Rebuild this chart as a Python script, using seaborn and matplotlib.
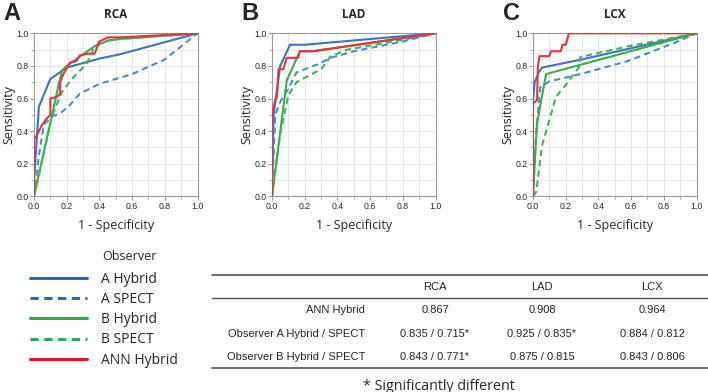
import numpy as np
import pandas as pd
import seaborn as sns
import matplotlib.pyplot as plt
from matplotlib.lines import Line2D
from matplotlib.ticker import MultipleLocator

# ROC curve points (1 - specificity, sensitivity)
rca_a_hyb_x = [0, 0, 0.03, 0.10, 0.20, 0.40, 0.52, 1.0]
rca_a_hyb_y = [0, 0.10, 0.55, 0.72, 0.79, 0.845, 0.87, 1.0]
rca_a_spe_x = [0, 0.03, 0.06, 0.11, 0.16, 0.21, 0.28, 0.40, 0.60, 0.80, 1.0]
rca_a_spe_y = [0, 0.25, 0.44, 0.49, 0.51, 0.55, 0.63, 0.69, 0.75, 0.84, 1.0]
rca_b_hyb_x = [0, 0.17, 0.20, 0.37, 0.45, 0.52, 1.0]
rca_b_hyb_y = [0, 0.77, 0.80, 0.92, 0.955, 0.965, 1.0]
rca_b_spe_x = [0, 0.11, 0.17, 0.24, 0.32, 0.37, 0.45, 0.52, 1.0]
rca_b_spe_y = [0, 0.49, 0.64, 0.73, 0.81, 0.92, 0.955, 0.965, 1.0]
rca_ann_x = [0, 0, 0.01, 0.05, 0.08, 0.10, 0.10, 0.14, 0.16, 0.16, 0.18, 0.22, 0.26, 0.28, 0.33, 0.37, 0.40, 0.45, 0.52, 1.0]
rca_ann_y = [0, 0.36, 0.36, 0.44, 0.48, 0.50, 0.60, 0.61, 0.63, 0.70, 0.75, 0.82, 0.83, 0.865, 0.875, 0.875, 0.95, 0.975, 0.975, 1.0]

lad_a_hyb_x = [0, 0.01, 0.05, 0.11, 0.20, 1.0]
lad_a_hyb_y = [0, 0.50, 0.80, 0.93, 0.93, 1.0]
lad_a_spe_x = [0, 0.02, 0.05, 0.10, 0.15, 0.28, 0.36, 0.50, 0.80, 1.0]
lad_a_spe_y = [0, 0.50, 0.58, 0.66, 0.76, 0.81, 0.85, 0.89, 0.95, 1.0]
lad_b_hyb_x = [0, 0.09, 0.17, 0.25, 1.0]
lad_b_hyb_y = [0, 0.71, 0.89, 0.89, 1.0]
lad_b_spe_x = [0, 0.05, 0.10, 0.15, 0.30, 0.36, 0.46, 0.80, 1.0]
lad_b_spe_y = [0, 0.38, 0.62, 0.70, 0.78, 0.86, 0.90, 0.96, 1.0]
lad_ann_x = [0, 0, 0.02, 0.03, 0.04, 0.07, 0.08, 0.09, 0.16, 0.17, 0.25, 1.0]
lad_ann_y = [0, 0.51, 0.59, 0.61, 0.78, 0.78, 0.82, 0.85, 0.85, 0.89, 0.89, 1.0]

lcx_a_hyb_x = [0, 0, 0.01, 0.035, 0.055, 0.30, 1.0]
lcx_a_hyb_y = [0, 0.59, 0.70, 0.76, 0.79, 0.84, 1.0]
lcx_a_spe_x = [0, 0.02, 0.045, 0.10, 0.29, 0.58, 0.86, 1.0]
lcx_a_spe_y = [0, 0.40, 0.67, 0.705, 0.75, 0.83, 0.94, 1.0]
lcx_b_hyb_x = [0, 0.01, 0.025, 0.08, 1.0]
lcx_b_hyb_y = [0, 0.20, 0.45, 0.75, 1.0]
lcx_b_spe_x = [0, 0.02, 0.055, 0.14, 0.19, 0.28, 0.29, 0.58, 1.0]
lcx_b_spe_y = [0, 0.03, 0.31, 0.61, 0.67, 0.79, 0.855, 0.92, 1.0]
lcx_ann_x = [0, 0, 0.025, 0.03, 0.04, 0.10, 0.11, 0.17, 0.18, 0.20, 0.22, 1.0]
lcx_ann_y = [0, 0.57, 0.59, 0.80, 0.86, 0.86, 0.89, 0.89, 0.93, 0.93, 1.0, 1.0]

series_names = ["A Hybrid", "A SPECT", "B Hybrid", "B SPECT", "ANN Hybrid"]
panels = ["RCA", "LAD", "LCX"]
panel_letters = ["A", "B", "C"]
curves = {
    "RCA": [(rca_a_hyb_x, rca_a_hyb_y), (rca_a_spe_x, rca_a_spe_y), (rca_b_hyb_x, rca_b_hyb_y),
            (rca_b_spe_x, rca_b_spe_y), (rca_ann_x, rca_ann_y)],
    "LAD": [(lad_a_hyb_x, lad_a_hyb_y), (lad_a_spe_x, lad_a_spe_y), (lad_b_hyb_x, lad_b_hyb_y),
            (lad_b_spe_x, lad_b_spe_y), (lad_ann_x, lad_ann_y)],
    "LCX": [(lcx_a_hyb_x, lcx_a_hyb_y), (lcx_a_spe_x, lcx_a_spe_y), (lcx_b_hyb_x, lcx_b_hyb_y),
            (lcx_b_spe_x, lcx_b_spe_y), (lcx_ann_x, lcx_ann_y)],
}

# AUC table
table_cols = ["RCA", "LAD", "LCX"]
table_rows = ["ANN Hybrid", "Observer A Hybrid / SPECT", "Observer B Hybrid / SPECT"]
table_vals = [
    ["0.867", "0.908", "0.964"],
    ["0.835 / 0.715*", "0.925 / 0.835*", "0.884 / 0.812"],
    ["0.843 / 0.771*", "0.875 / 0.815", "0.843 / 0.806"],
]

colors = {"A Hybrid": "#3a74c6", "A SPECT": "#4a8ad8", "B Hybrid": "#34b04a",
          "B SPECT": "#3fb552", "ANN Hybrid": "#e8323c"}
dashes = {"A Hybrid": "", "A SPECT": (3, 2), "B Hybrid": "", "B SPECT": (3, 2), "ANN Hybrid": ""}
legend_colors = ["#1f6cc0", "#1f6cc0", "#27ae4a", "#27ae4a", "#e8141c"]

# long table
rows = []
for p in panels:
    for name, (xs, ys) in zip(series_names, curves[p]):
        for i, (x, y) in enumerate(zip(xs, ys)):
            rows.append({"panel": p, "series": name, "order": i, "fpr": x, "tpr": y})
df = pd.DataFrame(rows)

sns.set_style("whitegrid")
plt.rcParams["font.family"] = ["Liberation Sans", "DejaVu Sans"]

fig = plt.figure(figsize=(7.08, 3.92), dpi=100)
lefts = [34 / 708, 272 / 708, 533 / 708]
for k, p in enumerate(panels):
    ax = fig.add_axes([lefts[k], 0.499, 0.231, 0.416])
    sub = df[df.panel == p]
    sns.lineplot(data=sub, x="fpr", y="tpr", hue="series", style="series", units="series",
                 palette=colors, dashes=dashes, sort=False, estimator=None,
                 linewidth=1.5, legend=False, ax=ax, zorder=3)
    ax.set_xlim(0, 1.0)
    ax.set_ylim(0, 1.0)
    ax.xaxis.set_minor_locator(MultipleLocator(0.1))
    ax.yaxis.set_minor_locator(MultipleLocator(0.1))
    ax.grid(True, which="both", color="#e4e4e4", linewidth=0.6)
    ax.tick_params(axis="both", which="major", labelsize=6.3, length=3, width=0.6,
                   color="#888888", pad=1.0, left=True, bottom=True)
    ax.tick_params(axis="both", which="minor", length=2, width=0.5, color="#888888",
                   left=True, bottom=True)
    ax.set_xticks([0, 0.2, 0.4, 0.6, 0.8, 1.0])
    ax.set_xticklabels(["0.0", "0.2", "0.4", "0.6", "0.8", "1.0"])
    ax.set_yticks([0, 0.2, 0.4, 0.6, 0.8, 1.0])
    ax.set_yticklabels(["0.0", "0.2", "0.4", "0.6", "0.8", "1.0"])
    for s in ax.spines.values():
        s.set_color("#9a9a9a")
        s.set_linewidth(0.8)
    ax.set_xlabel("1 - Specificity", fontsize=9, family="Open Sans", labelpad=6)
    ax.set_ylabel("Sensitivity", fontsize=9, family="Open Sans", labelpad=0.5)
    ax.set_title(p, fontsize=8.5, fontweight="bold", family="Open Sans", pad=11)
    fig.text(lefts[k] - 0.043, 0.965, panel_letters[k], fontsize=17, fontweight="bold",
             ha="left", va="center")

W, H = 708, 392
def fy(py):
    return 1 - py / H

# legend
fig.text(102 / W, fy(257), "Observer", ha="left", va="center", fontsize=9,
         family="Open Sans")
handles = [Line2D([], [], color=c, linewidth=2.2,
                  linestyle=(0, (2.7, 1.8)) if dashes[n] else "-")
           for n, c in zip(series_names, legend_colors)]
leg = fig.legend(handles, series_names, loc="upper left",
                 bbox_to_anchor=(0.034, fy(266)), frameon=False,
                 handlelength=4.1, handletextpad=1.05, borderaxespad=0,
                 labelspacing=0.38, prop={"family": "Open Sans", "size": 10})

# table
tl, tr = 212 / W, 1.0
for py, lw in [(275, 1.2), (298, 1.0), (368, 1.2)]:
    fig.add_artist(Line2D([tl, tr], [fy(py), fy(py)], color="#555555", linewidth=lw))
col_x = [435 / W, 542 / W, 652 / W]
for cx, c in zip(col_x, table_cols):
    fig.text(cx, fy(287), c, ha="center", va="center", fontsize=8)
row_y = [310, 334, 357]
for ry, rname, vals in zip(row_y, table_rows, table_vals):
    fig.text(365 / W, fy(ry), rname, ha="right", va="center", fontsize=8)
    for cx, v in zip(col_x, vals):
        fig.text(cx, fy(ry), v, ha="center", va="center", fontsize=8)
fig.text(439 / W, fy(386), "* Significantly different", ha="center", va="center",
         fontsize=10.3, family="Open Sans")

fig.savefig("out.png", dpi=100)
